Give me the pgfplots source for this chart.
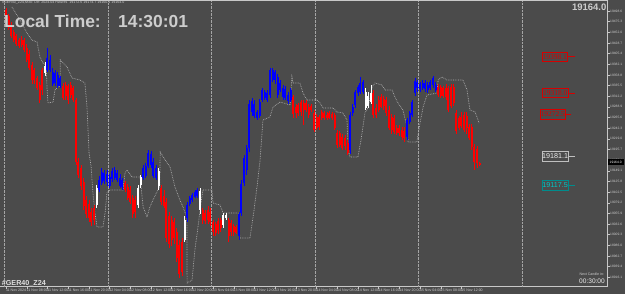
\documentclass[border=0pt]{standalone}
\usepackage{fontspec}
\setmainfont{Liberation Sans}
\newfontfamily\serifnum{Liberation Serif}
\usepackage{pgfplots}
\usepackage{pgfplotstable}
\pgfplotsset{compat=1.18}
\definecolor{bgc}{RGB}{75,75,75}
\definecolor{axisc}{RGB}{200,200,200}
\definecolor{sepc}{RGB}{165,165,165}
\definecolor{indc}{RGB}{175,175,175}
\definecolor{candred}{RGB}{255,0,0}
\definecolor{candblue}{RGB}{0,0,255}
\definecolor{lblred}{RGB}{215,0,0}
\definecolor{lblcyan}{RGB}{0,200,200}
\definecolor{txtc}{RGB}{205,205,205}

\pgfplotstableread{
i wt bt bb wb
0 8 10 20 22
1 14 16 28 30
2 22 26 36 38
3 30 32 40 42
4 34 36 44 46
5 38 40 46 48
6 36 40 45 47
7 38 40 50 52
8 44 48 60 62
9 50 54 68 70
10 62 65 80 84
11 68 70 80 84
12 76 78 88 90
13 82 85 100 103
14 68 70 90 95
22 83 86 98 100
23 82 85 96 100
24 84 86 100 104
25 82 85 95 98
26 86 88 100 102
27 98 100 162 165
28 158 162 175 178
29 165 168 186 190
30 178 182 206 210
31 196 200 214 218
32 200 204 218 222
33 208 212 222 226
34 205 208 220 225
46 181 183 190 192
47 184 187 198 200
48 186 190 202 204
49 195 198 214 218
50 196 200 212 218
60 185 188 202 205
61 190 196 206 208
62 198 202 238 242
63 212 216 244 248
64 216 220 240 246
65 218 222 238 244
66 228 232 258 262
67 240 245 274 278
68 238 242 272 276
76 208 210 220 224
77 210 213 221 224
78 206 210 220 224
79 208 212 222 226
80 220 222 232 236
81 222 224 233 236
82 218 221 230 234
83 218 220 228 232
86 218 220 236 242
87 220 223 232 236
88 224 226 232 236
89 225 227 233 234
111 95 97 114 118
112 104 107 113 118
113 103 105 113 116
114 100 102 112 116
115 100 103 110 125
116 100 103 110 112
117 104 107 115 118
118 104 106 110 112
119 110 113 130 132
120 114 117 128 130
121 115 117 127 130
122 110 112 118 120
123 111 113 118 120
124 112 115 118 120
125 111 113 118 119
126 112 114 118 120
127 113 115 128 130
128 130 133 145 148
129 131 133 145 147
130 134 137 148 150
131 135 138 146 150
132 140 143 153 155
142 90 93 115 118
143 104 108 115 118
144 96 100 110 112
145 94 97 107 108
146 96 99 106 110
147 97 100 113 116
148 106 110 128 130
149 114 117 130 134
150 115 118 132 134
151 125 128 133 135
152 125 128 133 136
153 127 130 137 140
154 127 131 138 142
167 84 87 95 97
168 85 87 96 98
169 86 88 96 98
170 84 88 97 100
171 86 88 110 112
172 84 87 106 108
173 84 87 103 106
174 110 113 131 134
175 116 118 128 130
176 112 117 126 128
177 112 115 130 132
178 112 116 128 134
179 124 127 138 140
180 124 127 147 150
181 144 147 162 170
182 146 149 163 168
183 162 163 165 166
}\redT

\pgfplotstableread{
i wt bt bb wb
16 48 58 70 72
17 55 60 70 72
18 68 72 84 86
19 70 73 83 86
20 72 75 86 88
21 76 78 86 88
36 176 180 190 192
37 168 172 183 185
38 170 173 181 184
39 170 174 182 186
40 174 177 186 188
41 168 171 179 182
42 167 170 178 180
43 170 173 180 182
44 174 178 186 188
45 178 180 187 190
53 165 168 178 180
54 163 166 176 178
55 150 153 166 168
56 151 154 165 168
57 158 162 176 178
58 165 168 178 180
70 202 205 218 222
71 196 198 204 206
72 193 195 200 202
73 190 192 197 198
74 188 190 196 198
90 212 214 236 240
91 180 184 213 216
92 155 158 183 186
93 145 148 170 175
94 100 104 148 152
95 98 101 112 116
96 100 104 116 118
97 110 112 118 120
98 99 102 116 118
99 88 90 100 102
100 90 92 98 100
101 90 93 100 102
102 68 70 95 98
103 68 70 80 82
104 70 72 80 84
105 74 77 95 98
106 80 83 90 92
107 85 88 97 100
108 86 89 98 100
109 92 95 101 104
110 88 90 100 102
133 112 115 150 154
134 104 107 113 116
135 90 92 105 108
136 85 87 93 96
137 77 83 92 94
138 80 82 92 94
155 118 120 137 140
156 111 113 122 124
157 100 102 115 117
158 78 81 93 96
159 80 82 88 92
160 82 84 89 92
161 80 83 88 90
162 80 83 89 92
163 82 85 90 93
164 80 82 88 90
165 76 78 85 88
166 82 85 90 92
}\blueT

\pgfplotstableread{
i wt bt bb wb
15 62 66 73 76
35 185 188 205 208
51 185 188 205 208
52 175 177 185 188
59 168 171 186 190
69 216 220 240 242
75 188 191 210 214
84 213 215 225 228
85 213 215 218 220
139 88 92 108 110
140 92 96 106 108
141 85 93 102 104
}\whiteT

\pgfplotstableread{
i y
2.3 7
5.4 20
8.1 33
10.0 40
12.0 42
13.1 57
14.3 63
15.5 65
15.9 90
16.2 103
18.2 102
18.9 90
20.1 87
20.9 86
21.0 60
23.6 67
25.5 78
28.6 80
30.5 83
31.3 107
31.7 130
32.1 153
32.9 167
33.6 193
34.4 213
35.2 227
37.5 227
38.3 213
39.0 193
40.2 190
45.2 190
46.0 173
46.8 170
48.7 177
51.8 177
53.0 207
54.5 217
55.6 207
56.8 200
58.7 190
59.4 187
59.6 152
61.5 160
63.4 167
65.3 187
67.2 200
68.4 207
69.9 217
70.0 283
71.9 280
73.0 250
74.2 227
75.0 210
76.1 190
79.6 190
80.0 203
82.7 205
83.9 213
89.7 213
90.4 238
94.3 238
95.5 217
97.0 187
98.2 160
99.3 120
102.0 117
103.2 107
105.9 102
109.8 105
110.5 77
110.9 83
113.6 83
114.8 93
116.3 100
120.2 100
121.4 103
122.5 108
126.4 108
127.9 112
130.2 113
131.8 120
132.2 150
133.0 157
136.0 157
137.2 140
138.7 113
139.9 108
141.5 87
142.6 83
145.3 85
146.5 90
149.2 90
150.3 97
151.5 103
153.4 110
155.0 127
155.4 142
158.8 142
160.0 123
161.2 107
162.7 95
166.6 93
167.0 80
168.5 77
170.4 80
176.6 80
178.2 90
179.3 110
181.3 112
182.0 117
182.8 123
}\indT

\pgfplotsset{
  wick/.style={forget plot, -, line width=0.6bp,
    quiver={u=0, v={\thisrow{wb}-\thisrow{wt}}}},
  body/.style={forget plot, -, line width=2bp,
    quiver={u=0, v={\thisrow{bb}-\thisrow{bt}}}},
}

\begin{document}
\begin{tikzpicture}
\fill[bgc] (0,0) rectangle (625bp,294bp);
\begin{axis}[
  at={(0,7.5bp)}, anchor=south west, scale only axis,
  width=607.5bp, height=286.5bp,
  xmin=-2.319, xmax=232.46, ymin=0, ymax=286.5, y dir=reverse,
  axis x line*=bottom, axis y line*=right,
  axis line style={draw=axisc, line width=0.6bp, -},
  tick style={draw=axisc, line width=0.4bp},
  major tick length=2bp, tick align=outside,
  xtick={0,8,...,176},
  xticklabels={11 Nov 2024,11 Nov 08:00,11 Nov 12:00,11 Nov 16:00,11 Nov 20:00,
    12 Nov 04:00,12 Nov 08:00,12 Nov 12:00,12 Nov 16:00,12 Nov 20:00,
    13 Nov 04:00,13 Nov 08:00,13 Nov 12:00,13 Nov 16:00,13 Nov 20:00,
    14 Nov 04:00,14 Nov 08:00,14 Nov 12:00,14 Nov 16:00,14 Nov 20:00,
    15 Nov 04:00,15 Nov 08:00,15 Nov 12:00},
  ytick={11,21.65,32.3,42.95,53.6,64.25,74.9,85.55,96.2,106.85,117.5,128.15,138.8,149.45,160.1,170.75,181.4,192.05,202.7,213.35,224,234.65,245.3,255.95,266.6,277.25},
  yticklabels={19498.6,19475.3,19452.0,19428.7,19405.4,19382.1,19358.8,19335.5,19312.2,19288.9,19265.6,19242.3,19219.0,19195.7,19172.4,19149.1,19125.8,19102.5,19079.2,19055.9,19032.6,19009.3,18986.0,18962.7,18939.4,18916.1},
  xticklabel style={font=\fontsize{3.6}{4}\selectfont, text=txtc, anchor=north west, inner sep=0.4bp, xshift=-0.6bp},
  yticklabel style={font=\fontsize{3.3}{4}\selectfont, text=txtc, anchor=west, inner sep=0.5bp},
  extra x ticks={-0.5,39.5,79.5,119.5,159.5,199.5},
  extra x tick labels={},
  extra x tick style={grid=major, major grid style={draw=sepc, densely dotted, line width=0.6bp}, major tick length=0pt},
]
\addplot[indc, densely dotted, line width=0.7bp, forget plot] table[x=i, y=y] {\indT};

\addplot[candred, wick] table[x=i, y=wt] {\redT};
\addplot[candred, body] table[x=i, y=bt] {\redT};
\addplot[candblue, wick] table[x=i, y=wt] {\blueT};
\addplot[candblue, body] table[x=i, y=bt] {\blueT};
\addplot[white, wick] table[x=i, y=wt] {\whiteT};
\addplot[white, body] table[x=i, y=bt] {\whiteT};
\end{axis}

% top frame line
\draw[axisc, line width=0.6bp] (0,293.7bp) -- (607.5bp,293.7bp);

% header texts
\node[anchor=west, inner sep=0, text=txtc, font=\fontsize{3.6}{4}\selectfont] at (2bp,291bp) {\#GER40\_Z24,M30: De: 2024.04 Futures \ 19172.6 19174.7 19160.1 19164.0};
\node[anchor=base west, inner sep=0, text=txtc, font=\bfseries\fontsize{17.5}{18}\selectfont] at (4bp,266bp) {Local Time:};
\node[anchor=base west, inner sep=0, text=txtc, font=\bfseries\fontsize{17.5}{18}\selectfont] at (118bp,266bp) {14:30:01};
\node[anchor=base east, inner sep=0, text=txtc, font=\bfseries\fontsize{9.5}{10}\selectfont] at (606.5bp,283.7bp) {19164.0};
\node[anchor=base west, inner sep=0, text=white!88!black, font=\bfseries\fontsize{7.2}{8}\selectfont] at (1.7bp,9bp) {\#GER40\_Z24};

% price labels
\node[draw=lblred, text=lblred, line width=0.5bp, anchor=west, minimum width=25.6bp, minimum height=9.5bp, inner sep=0, font=\serifnum\fontsize{7.5}{8}\selectfont] (a) at (541.7bp,237.3bp) {19398.1};
\draw[lblred, line width=0.5bp] (a.east) -- (575bp,237.3bp);
\node[draw=lblred, text=lblred, line width=0.5bp, anchor=west, minimum width=26bp, minimum height=9.5bp, inner sep=0, font=\serifnum\fontsize{7.5}{8}\selectfont] (b) at (542bp,201bp) {19318.0};
\draw[lblred, line width=0.5bp] (b.east) -- (575bp,201bp);
\node[draw=lblred, text=lblred, line width=0.5bp, anchor=west, minimum width=25bp, minimum height=9.5bp, inner sep=0, font=\serifnum\fontsize{7.5}{8}\selectfont] (c) at (540bp,179.5bp) {19272.5};
\draw[lblred, line width=0.5bp] (c.east) -- (571bp,179.5bp);
\node[draw=white!75!black, text=white!92!black, line width=0.6bp, anchor=west, minimum width=26.3bp, minimum height=10bp, inner sep=0, font=\fontsize{7.2}{8}\selectfont] (d) at (541.7bp,137.5bp) {19181.1};
\draw[white!75!black, line width=0.6bp] (d.east) -- (575bp,137.5bp);
\node[draw=lblcyan!70!black, text=lblcyan, line width=0.6bp, anchor=west, minimum width=26.3bp, minimum height=9.5bp, inner sep=0, font=\fontsize{7.2}{8}\selectfont] (e) at (541.7bp,108.5bp) {19117.5};
\draw[lblcyan!70!black, line width=0.6bp] (e.east) -- (575bp,108.5bp);

% current price marker on axis
\fill[black] (608.3bp,128.5bp) rectangle (624bp,134.7bp);
\node[anchor=west, inner sep=0, text=white, font=\fontsize{3.3}{4}\selectfont] at (609.5bp,131.6bp) {19164.0};

% next candle
\node[anchor=west, inner sep=0, text=txtc, font=\fontsize{3.6}{4}\selectfont] at (579.3bp,19.7bp) {Next Candle in:};
\node[anchor=base west, inner sep=0, text=white!92!black, font=\fontsize{6.6}{7}\selectfont] at (579bp,10.7bp) {00:30:00};

\pgfresetboundingbox
\useasboundingbox (0,0) rectangle (625bp,294bp);
\end{tikzpicture}
\end{document}
